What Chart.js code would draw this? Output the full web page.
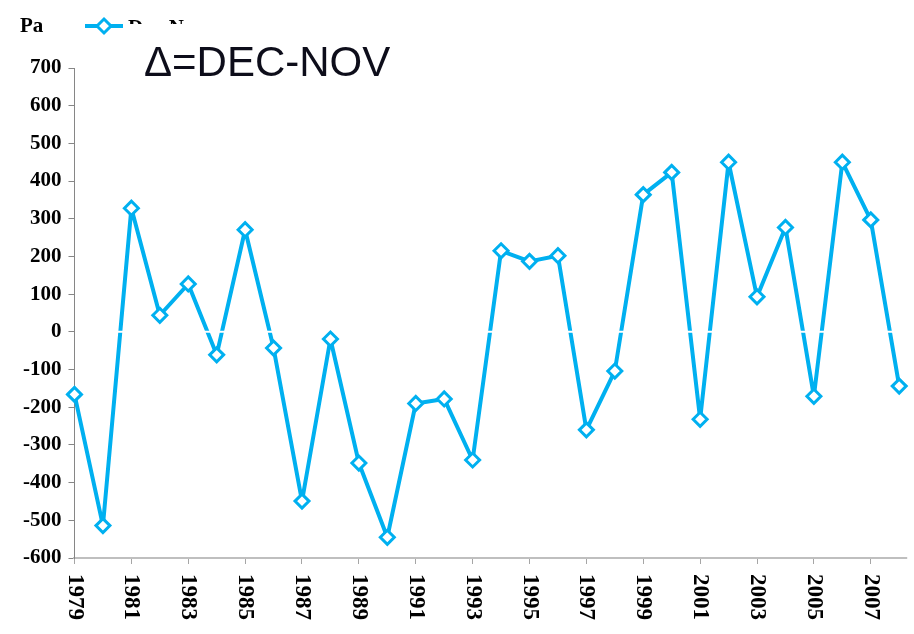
<!DOCTYPE html>
<html>
<head>
<meta charset="utf-8">
<script src="https://cdn.jsdelivr.net/npm/chart.js@4"></script>
<style>
html, body { margin: 0; padding: 0; background: #fff; }
</style>
</head>
<body>
<canvas id="line_chart" width="914" height="634"></canvas>
<script>
var years = ["1979", "1980", "1981", "1982", "1983", "1984", "1985", "1986", "1987", "1988",
    "1989", "1990", "1991", "1992", "1993", "1994", "1995", "1996", "1997", "1998",
    "1999", "2000", "2001", "2002", "2003", "2004", "2005", "2006", "2007", "2008"];
var decNov = [-166, -514, 328, 44, 127, -61, 271, -43, -449, -19,
    -348, -545, -190, -178, -340, 215, 187, 202, -260, -104,
    364, 423, -232, 450, 93, 277, -171, 450, 297, -144];
var yMin = -600, yMax = 700, yStep = 100;
var seriesName = "Dec-Nov";
var unitLabel = "Pa";
var noteText = "\u0394=DEC-NOV";

var blue = '#00b0f0';
var serif = '"Liberation Serif", "Times New Roman", serif';

var extras = {
    id: 'extras',
    afterDatasetDraw: function(chart, args) {
        // white zero line over the series line, under the markers
        if (args.index !== 1) return;
        var ctx = chart.ctx, area = chart.chartArea;
        var y0 = chart.scales.y.getPixelForValue(0);
        ctx.save();
        ctx.strokeStyle = '#ffffff';
        ctx.lineWidth = 2;
        ctx.beginPath();
        ctx.moveTo(area.left + 1, y0);
        ctx.lineTo(area.right + 8, y0);
        ctx.stroke();
        // axis line runs a little past the last point
        ctx.strokeStyle = '#bfbfbf';
        ctx.beginPath();
        ctx.moveTo(area.right, area.bottom);
        ctx.lineTo(area.right + 8, area.bottom);
        ctx.stroke();
        ctx.restore();
    },
    afterDraw: function(chart) {
        var ctx = chart.ctx, area = chart.chartArea, xs = chart.scales.x;
        ctx.save();
        // x labels, rotated clockwise
        ctx.font = 'bold 23px ' + serif;
        ctx.fillStyle = '#000';
        ctx.textAlign = 'left';
        ctx.textBaseline = 'middle';
        xs.ticks.forEach(function(t, i) {
            if (!t.label) return;
            ctx.save();
            ctx.translate(xs.getPixelForTick(i), area.bottom + 16);
            ctx.rotate(Math.PI / 2);
            ctx.fillText(t.label, 0, 0);
            ctx.restore();
        });

        // unit and legend
        ctx.font = 'bold 21px ' + serif;
        ctx.textBaseline = 'alphabetic';
        ctx.fillText(unitLabel, 20, 32);
        ctx.strokeStyle = blue;
        ctx.lineWidth = 4;
        ctx.beginPath();
        ctx.moveTo(85, 26);
        ctx.lineTo(123, 26);
        ctx.stroke();
        ctx.fillStyle = '#fff';
        ctx.lineWidth = 3;
        ctx.beginPath();
        ctx.moveTo(104, 19); ctx.lineTo(111, 26); ctx.lineTo(104, 33); ctx.lineTo(97, 26);
        ctx.closePath();
        ctx.fill();
        ctx.stroke();
        ctx.fillStyle = '#000';
        ctx.fillText(seriesName, 128, 34);

        // text box covering the legend label
        ctx.fillStyle = '#fff';
        ctx.fillRect(124, 24, 280, 60);
        ctx.fillStyle = '#0d0d1a';
        ctx.font = '42px "Liberation Sans", Arial, sans-serif';
        ctx.fillText(noteText, 144, 76);
        ctx.restore();
    }
};

var config = {
    type: 'line',
    data: {
        labels: years,
        datasets: [{
            // markers, drawn last
            label: seriesName,
            data: decNov,
            showLine: false,
            pointStyle: 'rectRot',
            pointRadius: 7,
            pointBorderWidth: 3,
            pointBackgroundColor: '#ffffff',
            pointBorderColor: blue
        }, {
            // connecting line
            label: seriesName,
            data: decNov,
            borderColor: blue,
            borderWidth: 4,
            borderJoinStyle: 'round',
            tension: 0,
            pointRadius: 0
        }]
    },
    options: {
        responsive: false,
        animation: false,
        layout: { padding: { top: 68, left: 16, right: 14, bottom: 42 } },
        plugins: { legend: { display: false }, tooltip: { enabled: false } },
        scales: {
            x: {
                offset: false,
                grid: {
                    drawOnChartArea: false,
                    tickLength: 6,
                    color: function(c) { return c.index % 2 === 0 ? '#a6a6a6' : 'rgba(0,0,0,0)'; }
                },
                border: { color: '#bfbfbf', width: 2 },
                ticks: {
                    autoSkip: false,
                    minRotation: 90,
                    maxRotation: 90,
                    padding: 10,
                    color: 'rgba(0,0,0,0)',
                    font: { family: serif, size: 4 },
                    callback: function(v, i) { return i % 2 === 0 ? years[i] : ''; }
                }
            },
            y: {
                min: yMin,
                max: yMax,
                grid: { drawOnChartArea: false, tickLength: 6, color: '#868686' },
                border: { color: '#868686', width: 1 },
                ticks: {
                    stepSize: yStep,
                    padding: 7,
                    color: '#000',
                    font: { family: serif, size: 21, weight: 'bold' }
                }
            }
        }
    },
    plugins: [extras]
};

new Chart(document.getElementById("line_chart").getContext("2d"), config);
</script>
</body>
</html>
